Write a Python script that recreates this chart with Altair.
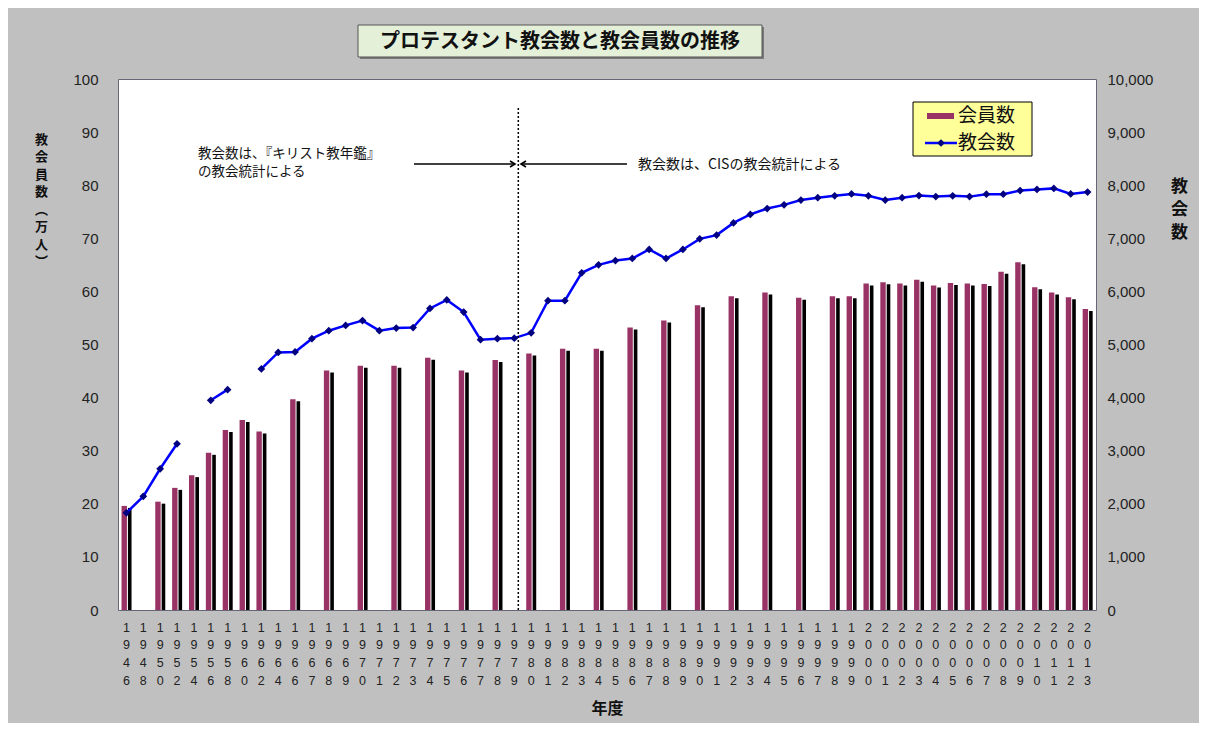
import altair as alt
import pandas as pd

# ---------------- data ----------------
years = [1946, 1948, 1950, 1952, 1954, 1956, 1958, 1960, 1962, 1964,
         1966, 1967, 1968, 1969, 1970, 1971, 1972, 1973, 1974, 1975,
         1976, 1977, 1978, 1979, 1980, 1981, 1982, 1983, 1984, 1985,
         1986, 1987, 1988, 1989, 1990, 1991, 1992, 1993, 1994, 1995,
         1996, 1997, 1998, 1999, 2000, 2001, 2002, 2003, 2004, 2005,
         2006, 2007, 2008, 2009, 2010, 2011, 2012, 2013]

# 会員数 (万人)
members = [19.6, None, 20.4, 23.0, 25.4, 29.6, 33.9, 35.8, 33.6, None,
           39.7, None, 45.1, None, 46.0, None, 46.0, None, 47.5, None,
           45.1, None, 47.1, None, 48.3, None, 49.2, None, 49.2, None,
           53.2, None, 54.5, None, 57.4, None, 59.1, None, 59.8, None,
           58.8, None, 59.1, 59.1, 61.5, 61.7, 61.5, 62.2, 61.1, 61.6,
           61.5, 61.4, 63.7, 65.5, 60.8, 59.8, 58.9, 56.7]

# 教会数
churches = [1830, 2140, 2660, 3130, None, 3950, 4150, None, 4540, 4850,
            4860, 5110, 5260, 5360, 5450, 5260, 5310, 5320, 5680, 5840,
            5610, 5090, 5110, 5120, 5220, 5825, 5825, 6350, 6500, 6580,
            6620, 6790, 6620, 6790, 6990, 7060, 7290, 7450, 7560, 7630,
            7720, 7765, 7800, 7835, 7800, 7720, 7765, 7805, 7785, 7800,
            7785, 7830, 7830, 7900, 7920, 7940, 7835, 7870]

left_ticks = [0, 10, 20, 30, 40, 50, 60, 70, 80, 90, 100]
right_ticks = [0, 1000, 2000, 3000, 4000, 5000, 6000, 7000, 8000, 9000, 10000]

title_text = "プロテスタント教会数と教会員数の推移"
note_left_1 = "教会数は、『キリスト教年鑑』"
note_left_2 = "の教会統計による"
note_right = "教会数は、CISの教会統計による"
legend_labels = ["会員数", "教会数"]
boundary_year = [1979]

# line segments (break the line where a year has no church count)
segs = []
seg = 0
prev_missing = True
for c in churches:
    if c is not None and prev_missing:
        seg += 1
    segs.append(seg if c is not None else None)
    prev_missing = c is None

df = pd.DataFrame({"year": years, "members": members,
                   "churches": churches, "seg": segs})
bars_df = df.dropna(subset=["members"])
line_df = df.dropna(subset=["churches"])

# ---------------- style ----------------
JP = "Noto Sans CJK JP"
NUM = "Liberation Sans"
MAROON = "#993366"
BLUE = "#0000ff"
NAVY = "#000080"

W, H = 978, 531

xscale = alt.Scale(type="band", domain=years, paddingInner=0, paddingOuter=0)
xaxis = alt.Axis(
    title="年度", labelExpr="split(datum.label, '')", labelAngle=0,
    labelAlign="center", labelBaseline="top", labelLineHeight=17.7,
    labelPadding=11, labelFontSize=12.5, labelFont=NUM, labelOverlap=False,
    labelColor="#222", ticks=False, domain=False, grid=False,
    titleFont=JP, titleFontSize=16, titleFontWeight="bold", titleColor="#111",
    titleY=98, titleBaseline="middle")


def X(bp=0.5):
    return alt.X("year:O", scale=xscale, axis=xaxis, bandPosition=bp)


left_axis = alt.Axis(
    values=left_ticks, orient="left", ticks=False, domain=False, grid=False,
    labelFont=NUM, labelFontSize=15, labelColor="#222", labelPadding=20,
    title=["教", "会", "員", "数", "︵", "万", "人", "︶"],
    titleFont=JP, titleFontSize=13, titleFontWeight="bold", titleColor="#111",
    titleAngle=0, titleAlign="center", titleBaseline="top",
    titleLineHeight=17.5, titleX=-77, titleY=54)

right_axis = alt.Axis(
    values=right_ticks, orient="right", format=",.0f", ticks=False,
    domain=False, grid=False, labelFont=NUM, labelFontSize=15,
    labelColor="#222", labelPadding=11,
    title=["教", "会", "数"], titleFont=JP, titleFontSize=17,
    titleFontWeight="bold", titleColor="#111", titleAngle=0,
    titleAlign="center", titleBaseline="top", titleLineHeight=23,
    titleX=83, titleY=99)

yleft = alt.Y("members:Q", scale=alt.Scale(domain=[0, 100]), axis=left_axis)
yright = alt.Y("churches:Q", scale=alt.Scale(domain=[0, 10000]), axis=right_axis)

# ---------------- bars (members) ----------------
shadow = alt.Chart(bars_df).mark_rule(
    color="#000000", strokeWidth=3.6, xOffset=3.3, yOffset=2
).encode(x=X(), y=yleft, y2=alt.datum(0))

bars = alt.Chart(bars_df).mark_rule(
    color=MAROON, strokeWidth=5.4, xOffset=-2.2
).encode(x=X(), y=yleft, y2=alt.datum(0))

left_layer = alt.layer(shadow, bars)

# ---------------- line (churches) ----------------
line = alt.Chart(line_df).mark_line(color=BLUE, strokeWidth=2.5).encode(
    x=X(), y=yright, detail="seg:N")
pts = alt.Chart(line_df).mark_point(
    shape="diamond", filled=True, color=NAVY, size=60, opacity=1
).encode(x=X(), y=yright)

right_layer = alt.layer(line, pts)

# ---------------- annotations ----------------
blank = alt.Chart(pd.DataFrame({"k": [0]}))

boundary = alt.Chart(pd.DataFrame({"year": boundary_year})).mark_rule(
    color="#000000", strokeWidth=1.5, strokeDash=[2, 2]
).encode(x=X(0.74), y=alt.value(29), y2=alt.value(H))

arrow_l = blank.mark_rule(color="#000000", strokeWidth=1.5).encode(
    x=alt.value(296), x2=alt.value(396), y=alt.value(85))
arrow_r = blank.mark_rule(color="#000000", strokeWidth=1.5).encode(
    x=alt.value(404), x2=alt.value(509), y=alt.value(85))
head_path = "M-1,-0.6L0,0L-1,0.6"
head_l = blank.mark_point(shape=head_path, filled=False, color="#000000",
                          strokeWidth=1.6, size=100, angle=0, opacity=1).encode(
    x=alt.value(397), y=alt.value(85))
head_r = blank.mark_point(shape=head_path, filled=False, color="#000000",
                          strokeWidth=1.6, size=100, angle=180, opacity=1).encode(
    x=alt.value(403), y=alt.value(85))

txt_l1 = blank.mark_text(font=JP, fontSize=13.5, align="left",
                         baseline="middle", color="#111").encode(
    x=alt.value(80), y=alt.value(75), text=alt.value(note_left_1))
txt_l2 = blank.mark_text(font=JP, fontSize=13.5, align="left",
                         baseline="middle", color="#111").encode(
    x=alt.value(80), y=alt.value(93), text=alt.value(note_left_2))
txt_r = blank.mark_text(font=JP, fontSize=14, align="left", baseline="middle",
                        color="#111").encode(
    x=alt.value(520), y=alt.value(86), text=alt.value(note_right))

# title box
tbox_shadow = blank.mark_rect(fill="#7a7a7a").encode(
    x=alt.value(242), x2=alt.value(646), y=alt.value(-52), y2=alt.value(-20))
tbox = blank.mark_rect(fill="#e4f0d8", stroke="#555555", strokeWidth=1).encode(
    x=alt.value(240), x2=alt.value(644), y=alt.value(-54), y2=alt.value(-22))
ttext = blank.mark_text(font=JP, fontSize=20, fontWeight="bold",
                        align="center", baseline="middle", color="#111").encode(
    x=alt.value(442), y=alt.value(-37), text=alt.value(title_text))

# legend
lbox = blank.mark_rect(fill="#ffff99", stroke="#000000", strokeWidth=1).encode(
    x=alt.value(795), x2=alt.value(914), y=alt.value(23), y2=alt.value(77))
lsw = blank.mark_rect(fill=MAROON).encode(
    x=alt.value(809), x2=alt.value(836), y=alt.value(34), y2=alt.value(40))
lline = blank.mark_rule(color=BLUE, strokeWidth=2.5).encode(
    x=alt.value(807), x2=alt.value(839), y=alt.value(64))
lpt = blank.mark_point(shape="diamond", filled=True, color=NAVY, size=60,
                       opacity=1).encode(x=alt.value(823), y=alt.value(64))
ltxt1 = blank.mark_text(font=JP, fontSize=19, align="left", baseline="middle",
                        color="#111").encode(
    x=alt.value(840), y=alt.value(37), text=alt.value(legend_labels[0]))
ltxt2 = blank.mark_text(font=JP, fontSize=19, align="left", baseline="middle",
                        color="#111").encode(
    x=alt.value(840), y=alt.value(64), text=alt.value(legend_labels[1]))

chart = alt.layer(
    left_layer, right_layer, boundary,
    arrow_l, arrow_r, head_l, head_r, txt_l1, txt_l2, txt_r,
    tbox_shadow, tbox, ttext,
    lbox, lsw, lline, lpt, ltxt1, ltxt2
).resolve_scale(y="independent").properties(
    width=W, height=H,
    autosize=alt.AutoSizeParams(type="none"),
    padding={"left": 110, "top": 71, "right": 103, "bottom": 113},
    background="#c0c0c0"
).configure_view(
    fill="#ffffff", stroke="#666677", strokeWidth=1
)

chart.save("out.html", embed_options={"renderer": "svg", "actions": False})
